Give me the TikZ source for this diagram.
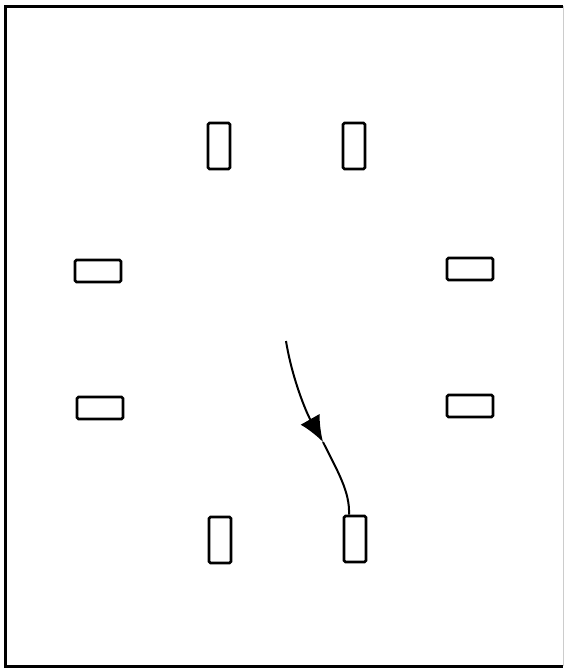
\documentclass[tikz,border=0pt]{standalone}
\usepackage{tikz}
\usetikzlibrary{arrows.meta,positioning}

\begin{document}
\begin{tikzpicture}[
    x=1pt, y=-1pt,
    tall/.style={draw, line width=2.6pt, rounded corners=1.5pt, minimum width=22pt, minimum height=46pt, inner sep=0pt},
    wide/.style={draw, line width=2.6pt, rounded corners=1.5pt, minimum width=46pt, minimum height=22pt, inner sep=0pt},
    frame/.style={line width=3pt},
    arr/.style={-{Latex[length=26pt, width=22pt]}, line width=2pt},
]
\useasboundingbox (0,0) rectangle (566,670);

% Frame
\draw[frame] (563,6) -- (5,6) -- (5,666) -- (563,666);
\draw[gray!40, line width=0.6pt] (563,6) -- (563,666);

% Top pair
\node[tall] (tl) at (219,146) {};
\node[tall] (tr) at (354,146) {};

% Side pairs
\node[wide] (ml) at (98,271) {};
\node[wide] (mr) at (470,269) {};
\node[wide] (ll) at (100,408) {};
\node[wide] (lr) at (470,406) {};

% Bottom pair
\node[tall] (bl) at (220,540) {};
\node[tall] (br) at (355,539) {};

% Path with arrow
\coordinate (start) at (286,341);
\coordinate (tip) at (323,442);
\draw[arr] (start) .. controls (292,378) and (306,412) .. (tip);
\draw[line width=2pt] (tip) .. controls (338,472) and (350,492) .. (br.north -| 349,0);
\end{tikzpicture}
\end{document}
